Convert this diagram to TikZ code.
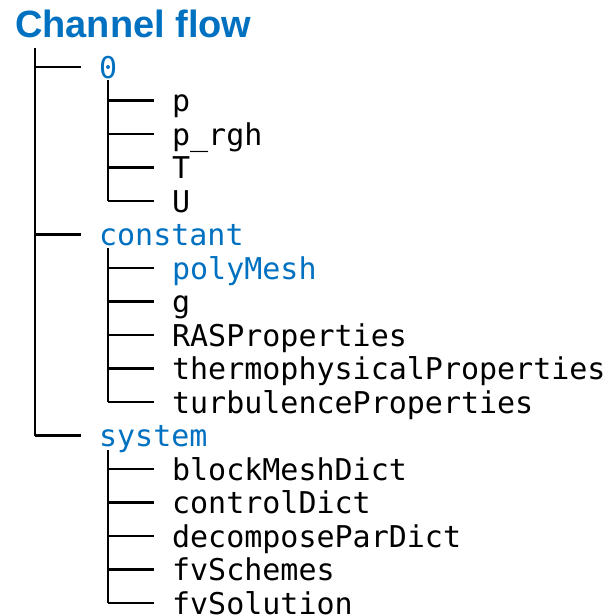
\documentclass[tikz,border=0pt]{standalone}
\usepackage{fontspec}
\setsansfont{Liberation Sans}
\setmonofont{DejaVu Sans Mono}
\usepackage{tikz}
\definecolor{dirblue}{HTML}{0070C0}

\begin{document}
\begin{tikzpicture}[x=1pt,y=-1pt,line width=2.2pt,ent/.style={anchor=west,inner xsep=17pt,inner ysep=0pt,text height=22pt,text depth=0pt,font=\fontsize{30}{30}\selectfont\ttfamily},dir/.style={ent,text=dirblue},fil/.style={ent,text=black}]
\useasboundingbox (0,0) rectangle (613,616);
\node[anchor=base west,inner sep=0pt,text=dirblue,font=\fontsize{38}{38}\selectfont\sffamily\bfseries] (title) at (14,37) {Channel flow};
% first level
\coordinate (top) at (35,48);
\foreach \n/\t/\k in %
{d0/0/0,dconst/constant/5,dsys/system/11} {
   \node[dir] (\n) at (81,67+33.5*\k) {\t};
   \draw (top |- \n.west) -- (\n.west);
}
\draw (top) -- (top |- dsys.west);
% second level
\coordinate (b0) at (108,80);
\coordinate (bconst) at (108,248);
\coordinate (bsys) at (108,450);
\foreach \b/\n/\t/\k/\s in %
{b0/p/p/1/fil,b0/prgh/p\_rgh/2/fil,b0/T/T/3/fil,b0/U/U/4/fil,
 bconst/poly/polyMesh/6/dir,bconst/g/g/7/fil,bconst/ras/RASProperties/8/fil,
 bconst/thermo/thermophysicalProperties/9/fil,bconst/turb/turbulenceProperties/10/fil,
 bsys/block/blockMeshDict/12/fil,bsys/ctrl/controlDict/13/fil,bsys/decomp/decomposeParDict/14/fil,
 bsys/schemes/fvSchemes/15/fil,bsys/solution/fvSolution/16/fil} {
   \node[\s] (\n) at (154,67+33.5*\k) {\t};
   \draw (\b |- \n.west) -- (\n.west);
}
\draw (b0) -- (b0 |- U.west);
\draw (bconst) -- (bconst |- turb.west);
\draw (bsys) -- (bsys |- solution.west);
\end{tikzpicture}
\end{document}
